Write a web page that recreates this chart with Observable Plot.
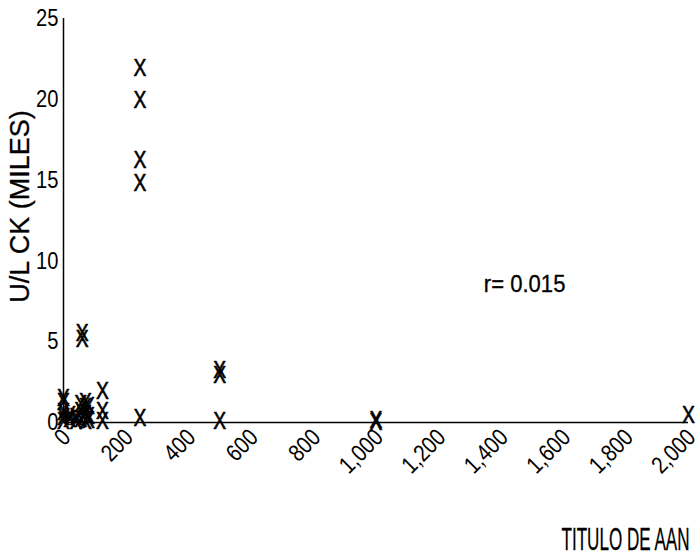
<!DOCTYPE html>
<html>
<head>
<meta charset="utf-8">
<script src="https://cdn.jsdelivr.net/npm/d3@7"></script>
<script src="https://cdn.jsdelivr.net/npm/@observablehq/plot@0.6"></script>
<style>
  html, body { margin: 0; padding: 0; background: #fff; }
</style>
</head>
<body>
<div id="chart"></div>
<script>
// Data (x = TITULO DE AAN, y = U/L CK in thousands)
const tituloAAN = [0, 0, 0, 0, 0, 20, 20, 40, 40, 55, 55, 55, 60, 60, 70, 70, 70, 70, 80, 80, 80, 125, 125, 125, 245, 245, 245, 245, 245, 500, 500, 500, 1000, 1000, 2000];
const ulCK      = [1.45, 1.25, 0.6, 0.3, 0.05, 0.15, 0.4, 0.05, 0.3, 1.1, 0.7, 0.2, 5.5, 5.1, 1.25, 0.9, 0.5, 0.05, 1.0, 0.35, 0.1, 1.9, 0.65, 0.05, 21.9, 19.9, 16.2, 14.8, 0.25, 3.2, 2.9, 0.05, 0.1, 0.0, 0.45];
const xTicks = [0, 200, 400, 600, 800, 1000, 1200, 1400, 1600, 1800, 2000];
const yTicks = [0, 5, 10, 15, 20, 25];
const xLabel = "TITULO DE AAN";
const yLabel = "U/L CK (MILES)";
const rLabel = "r= 0.015";

const points = tituloAAN.map((x, i) => ({x, y: ulCK[i]}));
const sans = "'Liberation Sans', Arial, sans-serif";

const chart = Plot.plot({
  width: 697,
  height: 557,
  marginLeft: 63,
  marginRight: 9,
  marginTop: 18,
  marginBottom: 135,
  style: {fontFamily: sans, fontSize: "23px", color: "#000", background: "#fff"},
  x: {domain: [0, 2000]},
  y: {domain: [0, 25]},
  marks: [
    Plot.ruleX([0], {stroke: "#000", strokeWidth: 1.5}),
    Plot.ruleY([0], {stroke: "#000", strokeWidth: 1.5}),
    Plot.axisY({ticks: yTicks, tickSize: 0, tickPadding: 5, label: null, fontSize: 24, stroke: "#000", strokeWidth: 0.4, className: "narrow"}),
    Plot.axisX({ticks: xTicks, tickSize: 0, tickPadding: 4, tickRotate: -45, tickFormat: d3.format(","), label: null, fontSize: 24, dx: 3, dy: 7, stroke: "#000", strokeWidth: 0.4, className: "narrow"}),
    Plot.text(points, {x: "x", y: "y", text: () => "X", fontSize: 23, fill: "#000", stroke: "#000", strokeWidth: 0.6, lineAnchor: "middle", textAnchor: "middle", className: "narrow"}),
    Plot.text([rLabel], {x: 1345, y: 8.55, text: d => d, textAnchor: "start", lineAnchor: "middle", fontSize: 23, fill: "#000", stroke: "#000", strokeWidth: 0.3, className: "rlab"}),
    Plot.text([yLabel], {frameAnchor: "left", text: d => d, rotate: -90, dx: -43, dy: -14, textAnchor: "middle", lineAnchor: "middle", fontSize: 27, fill: "#000", stroke: "#000", strokeWidth: 0.3}),
    Plot.text([xLabel], {frameAnchor: "bottom-right", text: d => d, dx: 1, dy: 118, textAnchor: "end", lineAnchor: "middle", fontSize: 31, fill: "#000", stroke: "#000", strokeWidth: 0.3, className: "xlab"})
  ]
});
document.getElementById("chart").appendChild(chart);

// Emulate the condensed typeface of the original by compressing glyphs horizontally
function squeeze(sel, f, fixed) {
  d3.select(chart).selectAll(sel).each(function() {
    const L = fixed != null ? fixed : this.getComputedTextLength() * f;
    this.setAttribute("textLength", L.toFixed(1));
    this.setAttribute("lengthAdjust", "spacingAndGlyphs");
  });
}
squeeze(".narrow text", 0.84);
squeeze(".rlab text", 0.96);
squeeze(".xlab text", null, 128);
</script>
</body>
</html>
